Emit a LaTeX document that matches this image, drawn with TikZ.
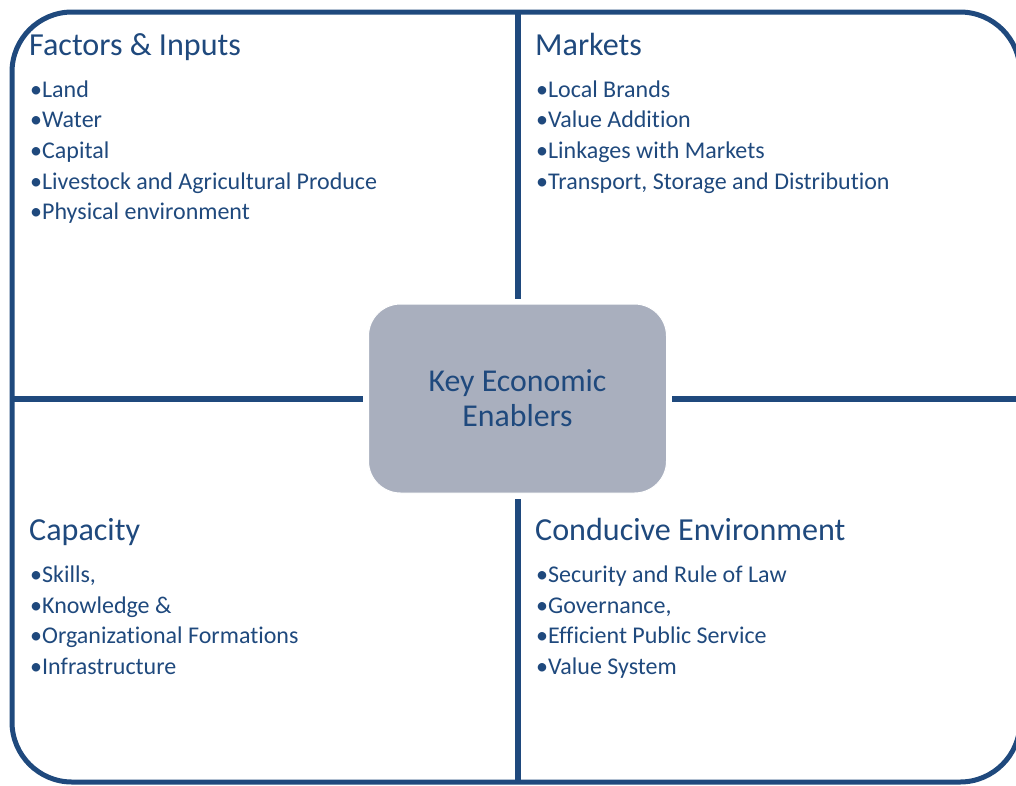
\documentclass[tikz,border=0pt]{standalone}
\usepackage{fontspec}
\setmainfont{Carlito}[RawFeature={-liga;-clig}]
\definecolor{navy}{HTML}{1F497D}
\definecolor{boxgray}{HTML}{A9AFBE}
\begin{document}
\begin{tikzpicture}[x=1pt,y=-1pt,
  frame/.style={draw=navy, line width=5pt},
  divider/.style={draw=navy, line width=6pt},
  titletext/.style={anchor=base west, inner sep=0pt, text=navy, font=\fontsize{32.1}{38}\selectfont},
  itemtext/.style={anchor=base west, inner sep=0pt, text=navy, font=\fontsize{24}{29}\selectfont},
  hub/.style={fill=boxgray, draw=white, line width=1pt, rounded corners=32pt,
    minimum width=298pt, minimum height=189pt, align=center, text=navy,
    font=\fontsize{31.8}{35}\selectfont, inner sep=0pt}]
\useasboundingbox (0,0) rectangle (1016,785);
\clip (0,0) rectangle (1016,785);
\draw[frame, rounded corners=60pt] (12,12) rectangle (1020,782);
\node[hub] (hub) at (517.5,398.5) {Key Economic\\Enablers};
\coordinate (ftop) at (517.5,12);
\coordinate (fbot) at (517.5,782);
\coordinate (fleft) at (12,398.5);
\coordinate (fright) at (1020,398.5);
\draw[divider, shorten >=5pt] (ftop) -- (hub.north);
\draw[divider, shorten >=5pt] (fbot) -- (hub.south);
\draw[divider, shorten >=5pt] (fleft) -- (hub.west);
\draw[divider, shorten >=5pt] (fright) -- (hub.east);
% titles
\node[titletext] (t1) at (29,55) {Factors \& Inputs};
\node[titletext] (t2) at (535,55) {Markets};
\node[titletext] (t3) at (29,540) {Capacity};
\node[titletext] (t4) at (535,540) {Conducive Environment};
% items
\foreach \t [count=\i] in {Land,Water,Capital,Livestock and Agricultural Produce,Physical environment}
  \node[itemtext] (a\i) at (30,{97+30.7*(\i-1)}) {•\t};
\foreach \t [count=\i] in {Local Brands,Value Addition,Linkages with Markets,{Transport, Storage and Distribution}}
  \node[itemtext] (b\i) at (536,{97+30.7*(\i-1)}) {•\t};
\foreach \t [count=\i] in {{Skills,},Knowledge \&,Organizational Formations,Infrastructure}
  \node[itemtext] (c\i) at (30,{582.3+30.7*(\i-1)}) {•\t};
\foreach \t [count=\i] in {Security and Rule of Law,{Governance,},Efficient Public Service,Value System}
  \node[itemtext] (d\i) at (536,{582.3+30.7*(\i-1)}) {•\t};
\end{tikzpicture}
\end{document}
